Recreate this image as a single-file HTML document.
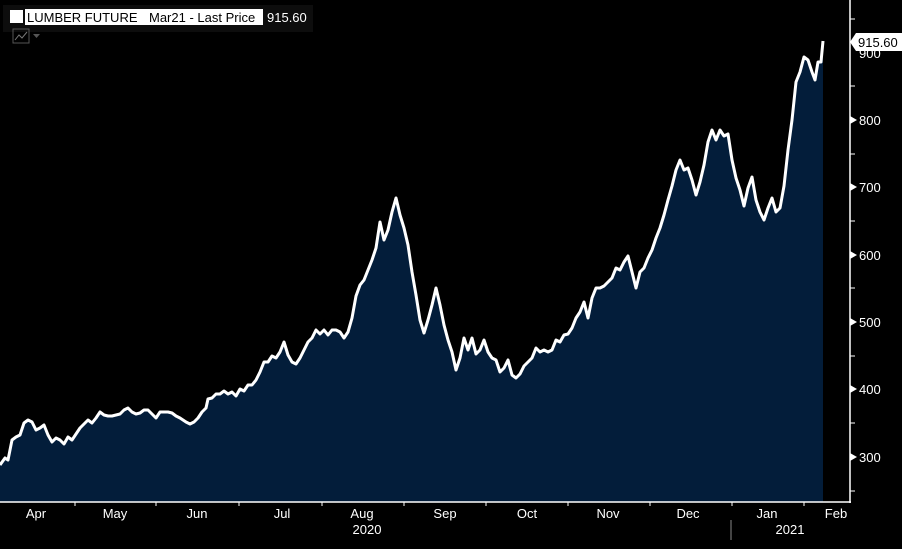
<!DOCTYPE html>
<html><head><style>
body{margin:0;background:#000;width:902px;height:544px;overflow:hidden;font-family:"Liberation Sans",sans-serif}
</style></head><body>
<svg width="902" height="544" xmlns="http://www.w3.org/2000/svg" font-family="Liberation Sans, sans-serif">
<rect width="902" height="544" fill="#000"/>
<rect x="3" y="5" width="310" height="27" fill="#0d0d0d"/>
<rect x="10" y="10" width="13" height="13" fill="#fff"/>
<rect x="25" y="9" width="238" height="16" fill="#fff"/>
<text x="27" y="22" font-size="13" fill="#000">LUMBER FUTURE</text>
<text x="149" y="22" font-size="13" fill="#000">Mar21 - Last Price</text>
<text x="267" y="22" font-size="13" fill="#fff">915.60</text>
<rect x="13" y="29" width="16" height="14" fill="none" stroke="#555"/>
<polyline points="15,40 19,35 22,38 27,32" fill="none" stroke="#777"/>
<polygon points="33,34 40,34 36.5,38" fill="#555"/>
<polygon id="a" fill="#031d3a" points="0,502 0,465 5,458 8,460 12,440 16,437 20,435 24,423 28,420 32,422 36,430 40,428 44,425 48,435 52,442 56,438 60,440 64,444 68,437 72,440 76,434 80,428 84,424 88,420 92,423 96,418 100,412 104,415 108,416 112,416 116,415 120,414 124,410 128,408 132,412 136,414 140,413 144,410 148,410 152,414 156,418 160,412 164,412 168,412 172,413 176,416 180,418 186,422 190,424 194,422 198,418 202,412 206,408 208,399 212,398 216,394 220,394 224,391 228,394 232,392 236,396 240,389 244,391 248,385 252,385 256,380 260,372 264,362 268,362 272,356 276,358 280,352 284,342 288,355 292,362 296,364 300,358 304,350 308,342 312,338 316,330 320,334 324,330 328,335 332,330 336,330 340,332 344,338 348,332 352,318 356,296 360,285 364,280 368,270 372,260 376,248 380,222 384,240 388,230 392,212 396,198 400,215 404,228 408,245 412,272 416,295 420,320 424,333 428,320 432,305 436,288 440,305 444,325 448,340 452,352 456,370 460,358 464,338 468,350 472,338 476,354 480,350 484,340 488,352 492,358 496,360 500,372 504,368 508,360 512,375 516,378 520,374 524,366 528,362 532,358 536,348 540,352 544,350 548,352 552,350 556,340 560,342 564,335 568,334 572,328 576,318 580,312 584,302 588,318 592,298 596,288 600,288 604,286 608,282 612,278 616,268 620,270 624,262 628,256 632,272 636,288 640,272 644,268 648,258 652,250 656,238 660,228 664,215 668,200 672,186 676,170 680,160 684,170 688,168 692,180 696,195 700,182 704,165 708,142 712,130 716,140 720,130 724,136 728,134 732,160 736,178 740,190 744,206 748,188 752,177 756,200 760,212 764,220 768,208 772,198 776,212 780,208 784,186 788,150 792,120 796,82 800,72 804,57 808,60 812,72 815,80 818,62 821,62 823,41 823,502"/>
<polyline fill="none" stroke="#fff" stroke-width="3" stroke-linejoin="round" points="0,465 5,458 8,460 12,440 16,437 20,435 24,423 28,420 32,422 36,430 40,428 44,425 48,435 52,442 56,438 60,440 64,444 68,437 72,440 76,434 80,428 84,424 88,420 92,423 96,418 100,412 104,415 108,416 112,416 116,415 120,414 124,410 128,408 132,412 136,414 140,413 144,410 148,410 152,414 156,418 160,412 164,412 168,412 172,413 176,416 180,418 186,422 190,424 194,422 198,418 202,412 206,408 208,399 212,398 216,394 220,394 224,391 228,394 232,392 236,396 240,389 244,391 248,385 252,385 256,380 260,372 264,362 268,362 272,356 276,358 280,352 284,342 288,355 292,362 296,364 300,358 304,350 308,342 312,338 316,330 320,334 324,330 328,335 332,330 336,330 340,332 344,338 348,332 352,318 356,296 360,285 364,280 368,270 372,260 376,248 380,222 384,240 388,230 392,212 396,198 400,215 404,228 408,245 412,272 416,295 420,320 424,333 428,320 432,305 436,288 440,305 444,325 448,340 452,352 456,370 460,358 464,338 468,350 472,338 476,354 480,350 484,340 488,352 492,358 496,360 500,372 504,368 508,360 512,375 516,378 520,374 524,366 528,362 532,358 536,348 540,352 544,350 548,352 552,350 556,340 560,342 564,335 568,334 572,328 576,318 580,312 584,302 588,318 592,298 596,288 600,288 604,286 608,282 612,278 616,268 620,270 624,262 628,256 632,272 636,288 640,272 644,268 648,258 652,250 656,238 660,228 664,215 668,200 672,186 676,170 680,160 684,170 688,168 692,180 696,195 700,182 704,165 708,142 712,130 716,140 720,130 724,136 728,134 732,160 736,178 740,190 744,206 748,188 752,177 756,200 760,212 764,220 768,208 772,198 776,212 780,208 784,186 788,150 792,120 796,82 800,72 804,57 808,60 812,72 815,80 818,62 821,62 823,41"/>
<line x1="850" y1="0" x2="850" y2="503" stroke="#fff" stroke-width="1.5"/>
<line x1="0" y1="502" x2="851" y2="502" stroke="#fff" stroke-width="1.5"/>
<g stroke="#fff" stroke-width="1">
<line x1="850" y1="19" x2="855" y2="19"/><line x1="850" y1="86" x2="855" y2="86"/><line x1="850" y1="154" x2="855" y2="154"/><line x1="850" y1="221" x2="855" y2="221"/><line x1="850" y1="288" x2="855" y2="288"/><line x1="850" y1="356" x2="855" y2="356"/><line x1="850" y1="423" x2="855" y2="423"/><line x1="850" y1="491" x2="855" y2="491"/>
<line x1="75" y1="502" x2="75" y2="506"/><line x1="156" y1="502" x2="156" y2="506"/><line x1="239" y1="502" x2="239" y2="506"/><line x1="322" y1="502" x2="322" y2="506"/><line x1="404" y1="502" x2="404" y2="506"/><line x1="486" y1="502" x2="486" y2="506"/><line x1="568" y1="502" x2="568" y2="506"/><line x1="650" y1="502" x2="650" y2="506"/><line x1="732" y1="502" x2="732" y2="506"/><line x1="804" y1="502" x2="804" y2="506"/>
<line x1="731" y1="520" x2="731" y2="540" stroke="#888"/>
</g>
<g fill="#fff">
<polygon points="850,116 857,120 850,124"/><polygon points="850,183 857,187 850,191"/><polygon points="850,251 857,255 850,259"/><polygon points="850,318 857,322 850,326"/><polygon points="850,385 857,389 850,393"/><polygon points="850,453 857,457 850,461"/>
</g>
<g fill="#fff" font-size="13">
<text x="859" y="125">800</text><text x="859" y="192">700</text><text x="859" y="260">600</text><text x="859" y="327">500</text><text x="859" y="394">400</text><text x="859" y="462">300</text>
<text x="859" y="58">900</text>
</g>
<polygon points="850,42 856,33 902,33 902,51 856,51" fill="#fff"/>
<text x="858" y="47" font-size="13" fill="#000">915.60</text>
<g fill="#fff" font-size="13" text-anchor="middle">
<text x="36" y="518">Apr</text><text x="115" y="518">May</text><text x="197" y="518">Jun</text><text x="282" y="518">Jul</text><text x="362" y="518">Aug</text><text x="445" y="518">Sep</text><text x="527" y="518">Oct</text><text x="608" y="518">Nov</text><text x="688" y="518">Dec</text><text x="767" y="518">Jan</text><text x="836" y="518">Feb</text>
<text x="367" y="534">2020</text><text x="790" y="534">2021</text>
</g>
</svg>
</body></html>
